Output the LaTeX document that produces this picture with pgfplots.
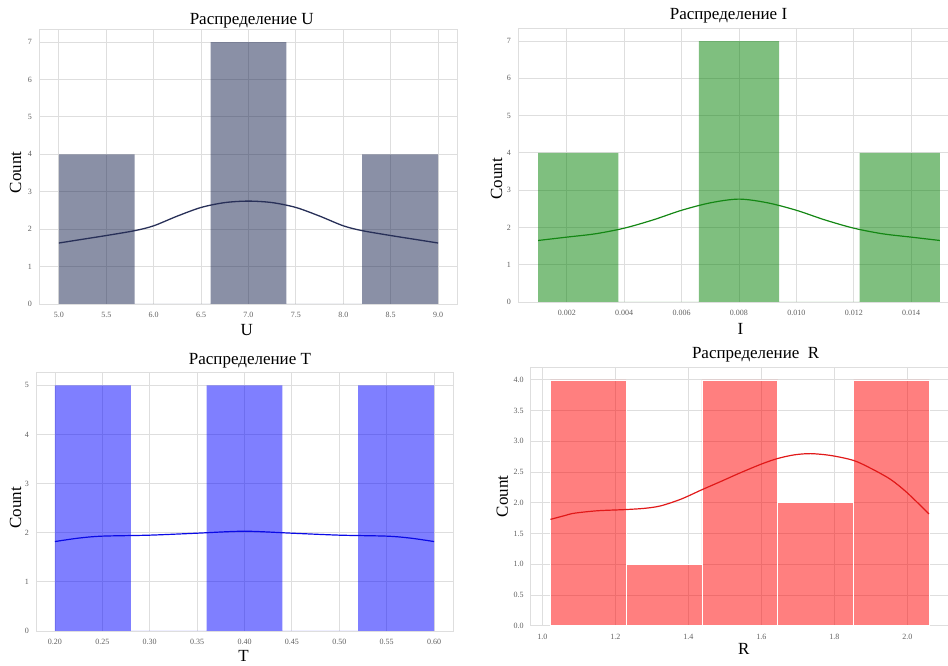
\documentclass[border=0pt]{standalone}
\usepackage{pgfplots}
\pgfplotsset{compat=1.18}
\usepackage{fontspec}
\setmainfont{Liberation Serif}
\definecolor{gridc}{RGB}{222,222,222}
\definecolor{tickc}{RGB}{95,95,95}
\definecolor{ubar}{RGB}{21,33,77}
\definecolor{uline}{RGB}{40,48,88}
\definecolor{iline}{RGB}{20,135,20}
\definecolor{tline}{RGB}{10,10,230}
\definecolor{rline}{RGB}{225,25,25}
\begin{document}
\begin{tikzpicture}
\useasboundingbox (0pt,0pt) rectangle (948pt,666pt);
\pgfplotsset{
  panel/.style={
    scale only axis, ymin=0,
    axis line style={gridc, line width=0.9pt},
    grid=major, grid style={gridc, line width=0.9pt},
    major tick style={draw=none}, minor tick style={draw=none},
    tick label style={font=\fontsize{8}{9}\selectfont, text=tickc},
    /pgf/number format/assume math mode=true,
    xticklabel shift=4.5pt, yticklabel shift=3.5pt,
    scaled x ticks=false, scaled y ticks=false,
    title style={font=\fontsize{17}{20}\selectfont, anchor=base},
    ylabel style={font=\fontsize{17}{20}\selectfont, anchor=center},
    xlabel style={font=\fontsize{17}{20}\selectfont, anchor=north, inner sep=0pt},
  }
}
% Panel U
\begin{axis}[panel, at={(39pt,362pt)}, anchor=south west, width=418pt, height=275pt,
  xmin=4.79, xmax=9.2, ymax=7.35,
  xtick={5,5.5,...,9.01}, ytick={0,1,...,7},
  xticklabel style={/pgf/number format/.cd, fixed, fixed zerofill, precision=1},
  title={Распределение U}, title style={at={(axis description cs:0.509,1)}, yshift=-2pt},
  ylabel={Count}, ylabel style={at={(axis description cs:-0.056,0.478)}},
  xlabel={U}, xlabel style={at={(axis description cs:0.497,0)}, yshift=-20pt}]
\addplot[ybar interval, fill=ubar, fill opacity=0.5, draw=none] coordinates {(5.0,4) (5.8,0) (6.6,7) (7.4,0) (8.2,4) (9.0,0)};
\addplot[smooth, uline, line width=1.3pt] coordinates {(5.0,1.63)(5.25,1.73)(5.5,1.83)(5.8,1.96)(6.0,2.09)(6.25,2.35)(6.5,2.58)(6.75,2.71)(7.0,2.75)(7.25,2.71)(7.5,2.58)(7.75,2.35)(8.0,2.09)(8.2,1.96)(8.5,1.83)(8.75,1.73)(9.0,1.63)};
\end{axis}
% Panel I
\begin{axis}[panel, at={(518pt,364pt)}, anchor=south west, width=430.5pt, height=274pt,
  xmin=0.0003, xmax=0.0153, ymax=7.35,
  xtick={0.002,0.004,...,0.0141}, ytick={0,1,...,7},
  xticklabel style={/pgf/number format/.cd, fixed, fixed zerofill, precision=3},
  title={Распределение I}, title style={at={(axis description cs:0.489,1)}, yshift=2pt},
  ylabel={Count}, ylabel style={at={(axis description cs:-0.05,0.449)}},
  xlabel={I}, xlabel style={at={(axis description cs:0.517,0)}, yshift=-21pt}]
\addplot[ybar interval, fill=green!50!black, fill opacity=0.5, draw=none] coordinates {(0.001,4) (0.0038,0) (0.0066,7) (0.0094,0) (0.0122,4) (0.015,0)};
\addplot[smooth, iline, line width=1.2pt] coordinates {(0.001,1.65)(0.002,1.74)(0.003,1.83)(0.004,1.98)(0.005,2.2)(0.006,2.46)(0.007,2.66)(0.008,2.76)(0.009,2.66)(0.010,2.46)(0.011,2.2)(0.012,1.98)(0.013,1.83)(0.014,1.74)(0.015,1.65)};
\end{axis}
% Panel T
\begin{axis}[panel, at={(36pt,35pt)}, anchor=south west, width=417pt, height=259pt,
  xmin=0.18, xmax=0.62, ymax=5.27,
  xtick={0.2,0.25,...,0.601}, ytick={0,1,...,5},
  xticklabel style={/pgf/number format/.cd, fixed, fixed zerofill, precision=2},
  title={Распределение T}, title style={at={(axis description cs:0.513,1)}, yshift=1pt},
  ylabel={Count}, ylabel style={at={(axis description cs:-0.049,0.475)}},
  xlabel={T}, xlabel style={at={(axis description cs:0.498,0)}, yshift=-19pt}]
\addplot[ybar interval, fill=blue, fill opacity=0.5, draw=none] coordinates {(0.2,5) (0.28,0) (0.36,5) (0.44,0) (0.52,5) (0.6,0)};
\addplot[smooth, tline, line width=1.2pt] coordinates {(0.2,1.82)(0.225,1.89)(0.25,1.93)(0.3,1.95)(0.35,1.99)(0.4,2.03)(0.45,1.99)(0.5,1.95)(0.55,1.93)(0.575,1.89)(0.6,1.82)};
\end{axis}
% Panel R
\begin{axis}[panel, at={(530.7pt,40.3pt)}, anchor=south west, width=420.5pt, height=258.7pt,
  xmin=0.968, xmax=2.12, ymax=4.21,
  xtick={1.0,1.2,...,2.01}, ytick={0,0.5,...,4.01},
  xticklabel style={/pgf/number format/.cd, fixed, fixed zerofill, precision=1},
  yticklabel style={/pgf/number format/.cd, fixed, fixed zerofill, precision=1},
  title={Распределение\ \ R}, title style={at={(axis description cs:0.535,1)}, yshift=2pt},
  ylabel={Count}, ylabel style={at={(axis description cs:-0.0676,0.5)}},
  xlabel={R}, xlabel style={at={(axis description cs:0.507,0)}, yshift=-17pt}]
\addplot[ybar interval, fill=red, fill opacity=0.5, draw=white, line width=0.6pt] coordinates {(1.022,4) (1.2296,1) (1.4372,4) (1.6448,2) (1.8524,4) (2.06,0)};
\addplot[smooth, rline, line width=1.2pt] coordinates {(1.022,1.73)(1.06,1.79)(1.087,1.83)(1.15,1.87)(1.228,1.89)(1.28,1.91)(1.324,1.95)(1.38,2.06)(1.436,2.21)(1.49,2.35)(1.543,2.49)(1.6,2.63)(1.644,2.72)(1.69,2.78)(1.735,2.80)(1.79,2.77)(1.852,2.69)(1.9,2.56)(1.954,2.38)(2.0,2.16)(2.059,1.82)};
\end{axis}
\end{tikzpicture}
\end{document}
